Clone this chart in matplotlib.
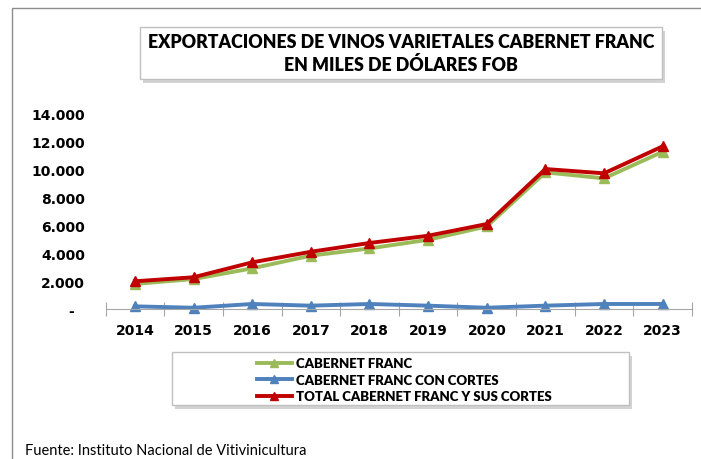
import matplotlib
matplotlib.use('Agg')
import matplotlib.pyplot as plt
from matplotlib.patches import Rectangle
from matplotlib.ticker import FuncFormatter, FixedLocator

# datos (miles de USD FOB)
anios = ['2014', '2015', '2016', '2017', '2018', '2019', '2020', '2021', '2022', '2023']
cabernet_franc = [1800, 2150, 2920, 3830, 4350, 4970, 5930, 9810, 9380, 11290]
con_cortes = [190, 90, 360, 240, 360, 240, 90, 240, 360, 360]
total = [1990, 2280, 3350, 4110, 4740, 5260, 6100, 10050, 9740, 11680]

nombres = ['CABERNET FRANC', 'CABERNET FRANC CON CORTES',
           'TOTAL CABERNET FRANC Y SUS CORTES']
colores = ['#9BBB59', '#4F81BD', '#C00000']

W, H = 701, 460
fig = plt.figure(figsize=(W / 100, H / 100), dpi=100)

# marco exterior
fig.patches.append(Rectangle((12 / W, -0.01), 1.02, 1 - 9 / H + 0.01,
                             transform=fig.transFigure, fill=False,
                             edgecolor='#8c8c8c', lw=1))

def caja(x0, y0, x1, y1):
    # caja con sombra, en pixeles desde arriba-izquierda
    fig.patches.append(Rectangle(((x0 + 3) / W, 1 - (y1 + 4) / H), (x1 - x0) / W, (y1 - y0) / H,
                                 transform=fig.transFigure, facecolor='#c8c8c8',
                                 edgecolor='none', alpha=0.8, zorder=1))
    fig.patches.append(Rectangle((x0 / W, 1 - y1 / H), (x1 - x0) / W, (y1 - y0) / H,
                                 transform=fig.transFigure, facecolor='white',
                                 edgecolor='#c0c0c0', lw=1, zorder=2))

caja(140, 28, 662, 80)
fig.text(401 / W, 1 - 43 / H, 'EXPORTACIONES DE VINOS VARIETALES CABERNET FRANC',
         ha='center', va='center', fontsize=12.8, fontweight='heavy', family='Lato', zorder=3)
fig.text(401 / W, 1 - 65 / H, 'EN MILES DE DÓLARES FOB',
         ha='center', va='center', fontsize=12.8, fontweight='heavy', family='Lato', zorder=3)

ax = fig.add_axes([105.6 / W, 1 - 310 / H, (692 - 105.6) / W, (310 - 115) / H])
x = list(range(len(anios)))
series = [cabernet_franc, con_cortes, total]
lineas = []
for s, c in zip(series, colores):
    l, = ax.plot(x, s, color=c, lw=2.8, marker='^', markersize=7.5, clip_on=False)
    lineas.append(l)

ax.set_xlim(-0.5, len(anios) - 0.5)
ax.set_ylim(0, 14000)
for lado in ['top', 'right', 'left']:
    ax.spines[lado].set_visible(False)
ax.spines['bottom'].set_color('#a6a6a6')
ax.xaxis.set_major_locator(FixedLocator([i - 0.5 for i in range(len(anios) + 1)]))
ax.xaxis.set_minor_locator(FixedLocator(x))
ax.set_xticklabels([])
ax.set_xticklabels(anios, minor=True)
ax.tick_params(axis='x', which='major', direction='inout', length=10, color='#a6a6a6')
ax.tick_params(axis='x', which='minor', length=0, pad=10, labelsize=10)
for t in ax.get_xticklabels(minor=True):
    t.set_fontweight('bold')
    t.set_family('DejaVu Sans')

ax.set_yticks(range(0, 14001, 2000))
ax.yaxis.set_major_formatter(FuncFormatter(
    lambda v, p: '-  ' if v == 0 else f'{int(v):,}'.replace(',', '.')))
ax.tick_params(axis='y', length=0, pad=15, labelsize=10)
for t in ax.get_yticklabels():
    t.set_fontweight('bold')
    t.set_family('DejaVu Sans')

# leyenda
caja(172, 353, 629, 406)
leg = fig.legend(lineas, nombres, loc='upper left', bbox_to_anchor=(248 / W, 1 - 349 / H),
                 frameon=False, handlelength=2.6, handletextpad=0.3, labelspacing=0.34,
                 borderpad=0.2, markerscale=0.75,
                 prop={'family': 'Lato', 'weight': 'heavy', 'size': 9.5})
leg.set_zorder(5)

fig.text(25 / W, 1 - 451 / H, 'Fuente: Instituto Nacional de Vitivinicultura',
         ha='left', va='center', fontsize=10.5, family='Lato')

fig.savefig('out.png', dpi=100)
